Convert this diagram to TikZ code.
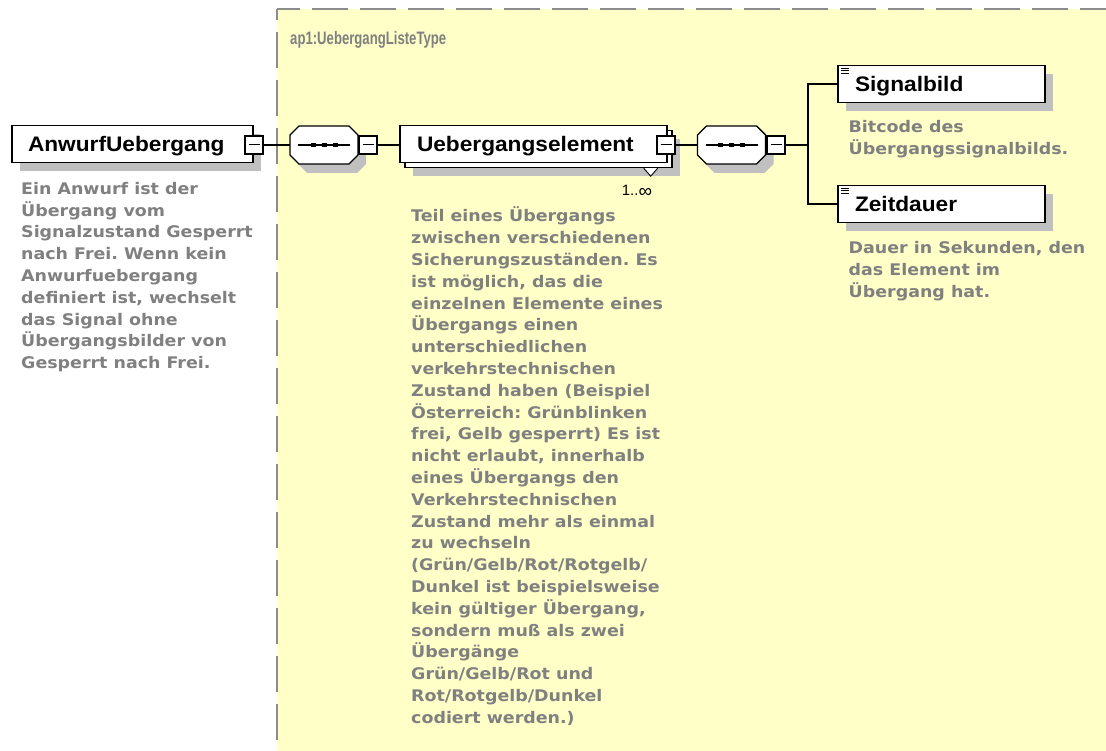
\documentclass[tikz,border=0pt]{standalone}
\usepackage{fontspec}
\usetikzlibrary{shadows,calc}
\newfontfamily\titlefont{Liberation Sans}[FakeStretch=1.08]
\newfontfamily\descfont{DejaVu Sans}[FakeStretch=1.09]
\newfontfamily\typefont{Liberation Sans}[FakeStretch=0.73]
\newfontfamily\multfont{Liberation Sans}
\definecolor{bgyellow}{RGB}{255,255,200}
\definecolor{dashgray}{RGB}{140,140,140}
\definecolor{shadowgray}{RGB}{192,192,192}
\definecolor{desctext}{RGB}{128,128,128}
\frenchspacing
\newcommand\seqnode[3]{%
  \begin{scope}[shift={(#2,#3)}]
    \fill[shadowgray] (-26,-1) -- (-17,-10) -- (33,-10) -- (42,-1) -- (42,19) -- (33,28) -- (-17,28) -- (-26,19) -- cycle;
    \draw[line width=1.4pt, fill=white] (-34,-10) -- (-25,-19) -- (25,-19) -- (34,-10) -- (34,10) -- (25,19) -- (-25,19) -- (-34,10) -- cycle;
    \draw[line width=1.1pt] (-26,0) -- (26,0);
    \foreach \dx in {-11,0,11} \fill (\dx-2.5,-2.2) rectangle (\dx+2.5,2.2);
    \node[inner sep=0pt, minimum width=68pt, minimum height=38pt] (#1) at (0,0) {};
  \end{scope}}
\begin{document}
\begin{tikzpicture}[x=1pt,y=-1pt,
  elembox/.style={draw=black, line width=1.4pt, fill=white, minimum height=37pt,
    inner ysep=0pt, align=left, text height=18pt, text depth=2pt,
    font=\titlefont\bfseries\fontsize{21}{24}\selectfont},
  boxshadow/.style={drop shadow={shadow xshift=8pt, shadow yshift=-9pt, fill=shadowgray, opacity=1}},
  minusbox/.style={draw=black, line width=1.1pt, fill=white, minimum width=18pt,
    minimum height=18pt, inner sep=0pt,
    path picture={\draw[line width=1pt] ([xshift=3.5pt]path picture bounding box.west) -- ([xshift=-3.5pt]path picture bounding box.east);}},
  conn/.style={draw=black, line width=1.3pt},
  desc/.style={anchor=north west, inner sep=0pt, align=left, text=desctext,
    font=\descfont\bfseries\fontsize{16}{21.8}\selectfont},
  listicon/.style={line width=0.8pt}
]
\useasboundingbox (0,0) rectangle (1106,751);
\fill[white] (0,0) rectangle (1106,751);
% type area
\fill[bgyellow] (277,9) rectangle (1106,751);
\draw[dashgray, line width=2pt, dash pattern=on 36pt off 12pt, dash phase=13pt] (277,9) -- (1106,9);
\draw[dashgray, line width=2pt, dash pattern=on 36pt off 12pt, dash phase=25pt] (277,9) -- (277,751);
\node[anchor=base west, inner sep=0pt, text=desctext,
  font=\typefont\bfseries\fontsize{18}{20}\selectfont] (tt) at (290,45) {ap1:UebergangListeType};

% root element
\node[elembox, boxshadow, text width=209pt, inner xsep=16pt] (A) at (132.5,144) {AnwurfUebergang};
\node[minusbox] (mA) at (254,145) {};
\node[desc] (dA) at (21,179) {\rule{0pt}{15pt}Ein Anwurf ist der\\Übergang vom\\Signalzustand Gesperrt\\nach Frei. Wenn kein\\Anwurfuebergang\\definiert ist, wechselt\\das Signal ohne\\Übergangsbilder von\\Gesperrt nach Frei.};

% first sequence
\seqnode{s1}{324}{145}
\node[minusbox] (m1) at (368,145) {};

% Uebergangselement (multiple)
\node[elembox, boxshadow, minimum width=267pt] (ueb) at (538.5,149) {};
\node[elembox, text width=233pt, inner xsep=17pt] (ue) at (533.5,144) {Uebergangselement};
\node[minusbox] (mUe) at (666,145) {};
\draw[line width=0.9pt, fill=white] ($(ueb.south east)+(-29,0)$) -- ($(ueb.south east)+(-22,8)$) -- ($(ueb.south east)+(-15,0)$);
\node[anchor=base, inner sep=0pt, font=\multfont\fontsize{15}{17}\selectfont] (mult) at (637,196) {1..{\fontsize{19}{19}\selectfont\raisebox{-1.5pt}{∞}}};
\node[desc] (dUe) at (411,206.7) {\rule{0pt}{15pt}Teil eines Übergangs\\zwischen verschiedenen\\Sicherungszuständen. Es\\ist möglich, das die\\einzelnen Elemente eines\\Übergangs einen\\unterschiedlichen\\verkehrstechnischen\\Zustand haben (Beispiel\\Österreich: Grünblinken\\frei, Gelb gesperrt) Es ist\\nicht erlaubt, innerhalb\\eines Übergangs den\\Verkehrstechnischen\\Zustand mehr als einmal\\zu wechseln\\(Grün/Gelb/Rot/Rotgelb/\\Dunkel ist beispielsweise\\kein gültiger Übergang,\\sondern muß als zwei\\Übergänge\\Grün/Gelb/Rot und\\Rot/Rotgelb/Dunkel\\codiert werden.)};

% second sequence
\seqnode{s2}{731.5}{145}
\node[minusbox] (m2) at (776,145) {};
\coordinate (br) at (808,145);

% children
\node[elembox, boxshadow, text width=173pt, inner xsep=17pt] (sig) at (941.5,84) {Signalbild};
\draw[listicon] ([shift={(4,3.3)}]sig.north west) -- ++(8,0);
\draw[listicon] ([shift={(4,5.8)}]sig.north west) -- ++(8,0);
\draw[listicon] ([shift={(4,8.3)}]sig.north west) -- ++(8,0);
\node[desc] (dSig) at (848.5,117.7) {\rule{0pt}{15pt}Bitcode des\\Übergangssignalbilds.};

\node[elembox, boxshadow, text width=173pt, inner xsep=17pt] (zeit) at (941.5,204) {Zeitdauer};
\draw[listicon] ([shift={(4,3.3)}]zeit.north west) -- ++(8,0);
\draw[listicon] ([shift={(4,5.8)}]zeit.north west) -- ++(8,0);
\draw[listicon] ([shift={(4,8.3)}]zeit.north west) -- ++(8,0);
\node[desc] (dZeit) at (848.5,238.3) {\rule{0pt}{15pt}Dauer in Sekunden, den\\das Element im\\Übergang hat.};

% connectors
\draw[conn] (mA.east) -- (s1.west);
\draw[conn] (m1.east) -- (m1.east -| ue.west);
\draw[conn] (mUe.east) -- (s2.west);
\draw[conn] (m2.east) -- (br);
\draw[conn] (sig.west) -| (br) |- (zeit.west);
\end{tikzpicture}
\end{document}
